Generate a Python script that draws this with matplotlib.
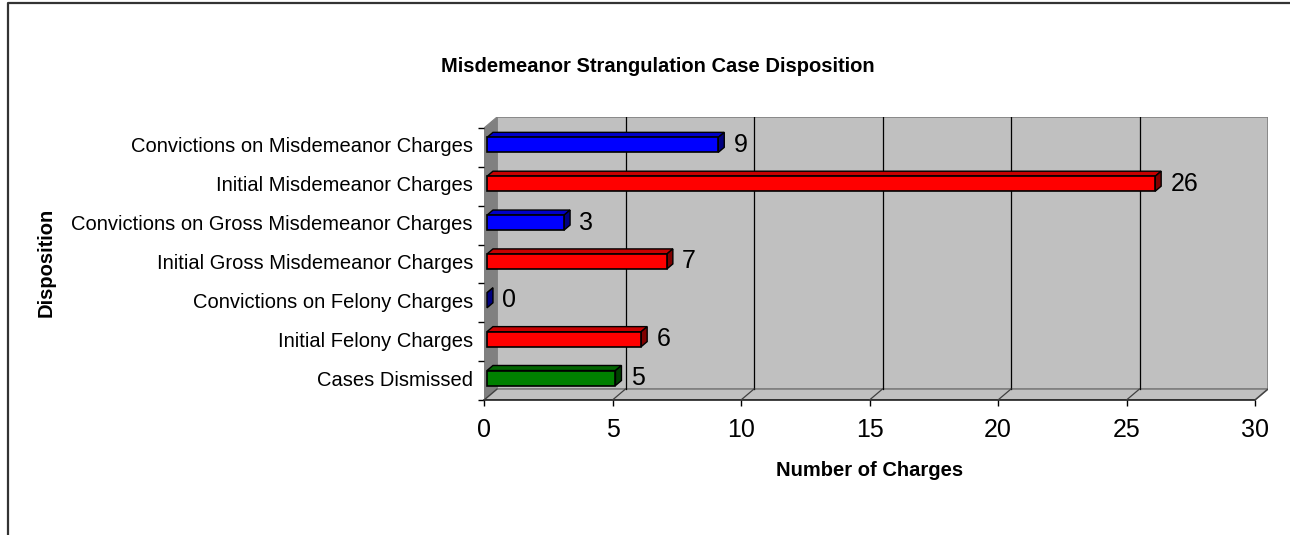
import matplotlib
matplotlib.use("Agg")
import matplotlib.pyplot as plt
from matplotlib.patches import Polygon, Rectangle
from matplotlib.lines import Line2D

plt.rcParams['font.family'] = ['Liberation Sans', 'DejaVu Sans']

# ---- data (top to bottom as shown) ----
categories = [
    "Convictions on Misdemeanor Charges",
    "Initial Misdemeanor Charges",
    "Convictions on Gross Misdemeanor Charges",
    "Initial Gross Misdemeanor Charges",
    "Convictions on Felony Charges",
    "Initial Felony Charges",
    "Cases Dismissed",
]
values = [9, 26, 3, 7, 0, 6, 5]
bar_kind = ["conv", "init", "conv", "init", "conv", "init", "dism"]
x_ticks = [0, 5, 10, 15, 20, 25, 30]
title = "Misdemeanor Strangulation Case Disposition"
x_title = "Number of Charges"
y_title = "Disposition"

# ---- styles ----
palette = {
    "conv": ("#0000FF", "#0000C8", "#000080"),
    "init": ("#FF0000", "#C80000", "#800000"),
    "dism": ("#008000", "#006400", "#004000"),
}

W, H, DPI = 12.9, 5.35, 100
FW, FH = 1290, 535
fig = plt.figure(figsize=(W, H), dpi=DPI)

# axes in pixel geometry
px_left, px_right, px_top, px_bottom = 484, 1268, 117, 400
ax = fig.add_axes([px_left / FW, (FH - px_bottom) / FH,
                   (px_right - px_left) / FW, (px_bottom - px_top) / FH])

xmax = x_ticks[-1]
n = len(categories)
ppx = (1255 - 484) / xmax          # pixels per x unit
ppy = (px_bottom - 128) / n        # pixels per category
DX = 13 / ppx
DY = 11 / ppy
ax.set_xlim(0, xmax + DX)
ax.set_ylim(0, n + DY)
for s in ax.spines.values():
    s.set_visible(False)
ax.patch.set_visible(False)

wall = "#C0C0C0"
side = "#808080"
edge = "#808080"

# back wall
ax.add_patch(Polygon([(DX, DY), (xmax + DX, DY), (xmax + DX, n + DY), (DX, n + DY)],
                     closed=True, facecolor=wall, edgecolor=edge, lw=1.2, zorder=1))
# left wall
ax.add_patch(Polygon([(0, 0), (DX, DY), (DX, n + DY), (0, n)],
                     closed=True, facecolor=side, edgecolor=side, lw=0.8, zorder=1))
# floor
ax.add_patch(Polygon([(0, 0), (xmax, 0), (xmax + DX, DY), (DX, DY)],
                     closed=True, facecolor=wall, edgecolor=edge, lw=1.2, zorder=1))
ax.plot([0, xmax], [0, 0], color="#202020", lw=1.2, zorder=2, clip_on=False)
# grid lines on back wall and floor diagonals
for t in x_ticks:
    if 0 < t < xmax:
        ax.plot([t + DX, t + DX], [DY, n + DY], color="black", lw=0.9, zorder=2)
    ax.plot([t, t + DX], [0, DY], color="#404040", lw=0.9, zorder=2)

# bars
f0 = 0.23          # bar front depth fraction
fb = 0.46          # bar depth fraction
h = 15 / ppy
for k, (v, kind) in enumerate(zip(values, bar_kind)):
    fc, tc, sc = palette[kind]
    yc = n - k - 0.5 + f0 * DY
    x0 = f0 * DX
    y0, y1 = yc - h / 2, yc + h / 2
    bdx, bdy = fb * DX, fb * DY
    # top face
    ax.add_patch(Polygon([(x0, y1), (x0 + v, y1), (x0 + v + bdx, y1 + bdy), (x0 + bdx, y1 + bdy)],
                         closed=True, facecolor=tc, edgecolor="black", lw=1.0, zorder=4))
    # side face
    ax.add_patch(Polygon([(x0 + v, y0), (x0 + v + bdx, y0 + bdy), (x0 + v + bdx, y1 + bdy), (x0 + v, y1)],
                         closed=True, facecolor=sc, edgecolor="black", lw=1.0, zorder=4))
    # front face
    if v > 0:
        ax.add_patch(Rectangle((x0, y0), v, h, facecolor=fc, edgecolor="black", lw=1.2, zorder=5))
    ax.annotate(str(v), xy=(x0 + v, yc), xytext=(11, 0), textcoords="offset points",
                ha="left", va="center", fontsize=18, zorder=6)

# ticks
ax.set_xticks(x_ticks)
ax.set_xticklabels([str(t) for t in x_ticks], fontsize=18)
ax.tick_params(axis="x", length=4, width=1, color="black", pad=9)
lab_shift = 2.5 / ppy
centers = [n - k - 0.5 + lab_shift for k in range(n)]
ax.set_yticks(centers)
ax.set_yticklabels(categories, fontsize=14.5)
ax.set_yticks(range(n + 1), minor=True)
ax.tick_params(axis="y", which="major", length=0, pad=8)
ax.tick_params(axis="y", which="minor", length=4, width=1, color="black")

# titles
fig.text(658 / FW, 1 - 72 / FH, title, ha="center", va="baseline",
         fontsize=14.5, fontweight="bold")
fig.text(870 / FW, 1 - 476 / FH, x_title, ha="center", va="baseline",
         fontsize=14.5, fontweight="bold")
fig.text(46 / FW, 1 - 262.5 / FH, y_title, ha="center", va="center", rotation=90,
         fontsize=14.5, fontweight="bold")

# chart-area border (top and left visible)
fig.add_artist(Line2D([8 / FW, 8 / FW, 1.0], [0.0, 1 - 3 / FH, 1 - 3 / FH],
                      transform=fig.transFigure, color="#333333", lw=1.6))

fig.savefig("out.png", dpi=DPI)
